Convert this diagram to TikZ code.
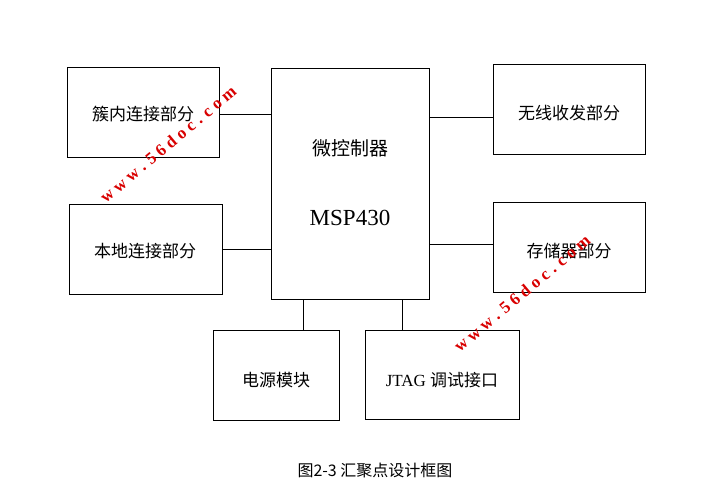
\documentclass[tikz,border=0pt]{standalone}
\usepackage{fontspec}
\setmainfont{Liberation Serif}
\newfontfamily\cjk{Noto Sans CJK SC}
\begin{document}
\begin{tikzpicture}[x=1pt,y=-1pt,
  box/.style={draw,line width=0.8pt,inner sep=0pt},
  lab/.style={font=\cjk\fontsize{17}{19}\selectfont},
  wm/.style={text=red!85!black,font=\bfseries\fontsize{17}{17}\selectfont,rotate=40}]
\useasboundingbox (0,0) rectangle (723,495);
\fill[white] (0,0) rectangle (723,495);
\draw[box] (67,67) rectangle (219,157); \node[lab] (a) at (143,114) {簇内连接部分};
\draw[box] (69,204) rectangle (222,294); \node[lab] (b) at (145,251) {本地连接部分};
\draw[box] (271,68) rectangle (429,299);
\node[font=\cjk\fontsize{19}{21}\selectfont] (m1) at (350,148) {微控制器};
\node[font=\fontsize{23}{25}\selectfont] (m2) at (350,218) {MSP430};
\draw[box] (493,64) rectangle (645,154); \node[lab] (c) at (569,113) {无线收发部分};
\draw[box] (493,202) rectangle (645,292); \node[lab] (d) at (569,251) {存储器部分};
\draw[box] (213,330) rectangle (339,420); \node[lab] (e) at (276,380) {电源模块};
\draw[box] (365,330) rectangle (519,419); \node[font=\fontsize{17}{19}\selectfont] (f) at (442,380) {JTAG {\cjk 调试接口}};
\coordinate (a1) at (219,114); \coordinate (a2) at (271,114);
\coordinate (b1) at (222,249); \coordinate (b2) at (271,249);
\coordinate (c1) at (429,117); \coordinate (c2) at (493,117);
\coordinate (d1) at (429,244); \coordinate (d2) at (493,244);
\coordinate (e1) at (303,299); \coordinate (e2) at (303,330);
\coordinate (f1) at (402,299); \coordinate (f2) at (402,330);
\foreach \p/\q in {a1/a2,b1/b2,c1/c2,d1/d2,e1/e2,f1/f2} \draw[line width=0.8pt] (\p) -- (\q);
\node[font=\cjk\fontsize{16}{18}\selectfont] (cap) at (375,470) {图2-3 汇聚点设计框图};
\node[wm] (w1) at (168,144) {w w w . 5 6 d o c . c o m};
\node[wm] (w2) at (522,293) {w w w . 5 6 d o c . c o m};
\end{tikzpicture}
\end{document}
